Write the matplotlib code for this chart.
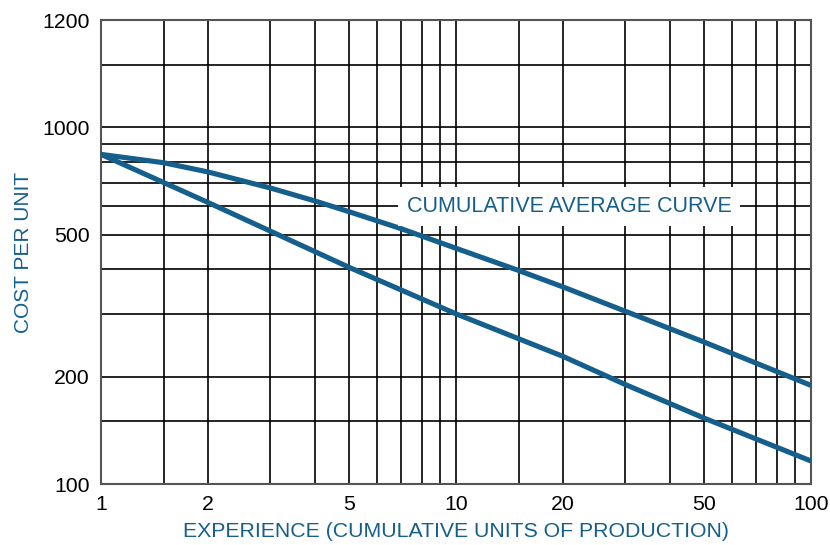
import matplotlib
matplotlib.use('Agg')
from matplotlib import pyplot as plt
from matplotlib.ticker import FixedLocator, NullFormatter

plt.rcParams['font.family'] = ['Liberation Sans', 'DejaVu Sans']

BLUE = '#155f8c'

# experience (cumulative units) and cost per unit
unit_x = [1, 2, 5, 10, 20, 30, 50, 100]
unit_cost = [840, 616, 405, 300, 228, 190, 153, 116]

avg_x = [1, 1.5, 2, 3, 4, 5, 7, 10, 15, 20, 30, 50, 100]
avg_cost = [840, 796, 750, 676, 622, 580, 520, 458, 397, 357, 305, 250, 189]

x_ticks = [1, 2, 5, 10, 20, 50, 100]
x_grid = [1.5, 3, 4, 6, 7, 8, 9, 15, 30, 40, 60, 70, 80, 90]
y_ticks = [100, 200, 500, 1000, 2000]
y_tick_labels = ['100', '200', '500', '1000', '1200']
y_grid = [150, 300, 400, 600, 700, 800, 900, 1500]

fig = plt.figure(figsize=(8.3, 5.45), dpi=100)
ax = fig.add_axes([0.1217, 0.1119, 0.8555, 0.8514])

ax.set_xscale('log')
ax.set_yscale('log')
ax.set_xlim(1, 100)
ax.set_ylim(100, 2000)

ax.xaxis.set_major_locator(FixedLocator(x_ticks))
ax.xaxis.set_minor_locator(FixedLocator(x_grid))
ax.yaxis.set_major_locator(FixedLocator(y_ticks))
ax.yaxis.set_minor_locator(FixedLocator(y_grid))
ax.set_xticklabels([str(v) for v in x_ticks])
ax.set_yticklabels(y_tick_labels)
ax.xaxis.set_minor_formatter(NullFormatter())
ax.yaxis.set_minor_formatter(NullFormatter())
ax.tick_params(which='both', length=0, labelsize=15.3, colors='black')
ax.tick_params(axis='x', pad=8)
ax.tick_params(axis='y', pad=8)

ax.grid(True, which='both', color='black', linewidth=1.2)
ax.set_axisbelow(True)
for s in ax.spines.values():
    s.set_color('#555555')
    s.set_linewidth(1.5)

ax.plot(unit_x, unit_cost, color=BLUE, linewidth=3.7, solid_capstyle='butt',
        solid_joinstyle='round', zorder=3)
ax.plot(avg_x, avg_cost, color=BLUE, linewidth=3.7, solid_capstyle='butt',
        solid_joinstyle='round', zorder=3)

ax.text(20.8, 600, 'CUMULATIVE AVERAGE CURVE', color=BLUE, fontsize=15.5,
        ha='center', va='center', zorder=4,
        bbox=dict(boxstyle='square,pad=0.4', facecolor='white', edgecolor='none'))

ax.set_xlabel('EXPERIENCE (CUMULATIVE UNITS OF PRODUCTION)', color=BLUE, fontsize=15.3, labelpad=6)
ax.set_ylabel('COST PER UNIT', color=BLUE, fontsize=15, labelpad=7)

fig.savefig('out.png', dpi=100)
